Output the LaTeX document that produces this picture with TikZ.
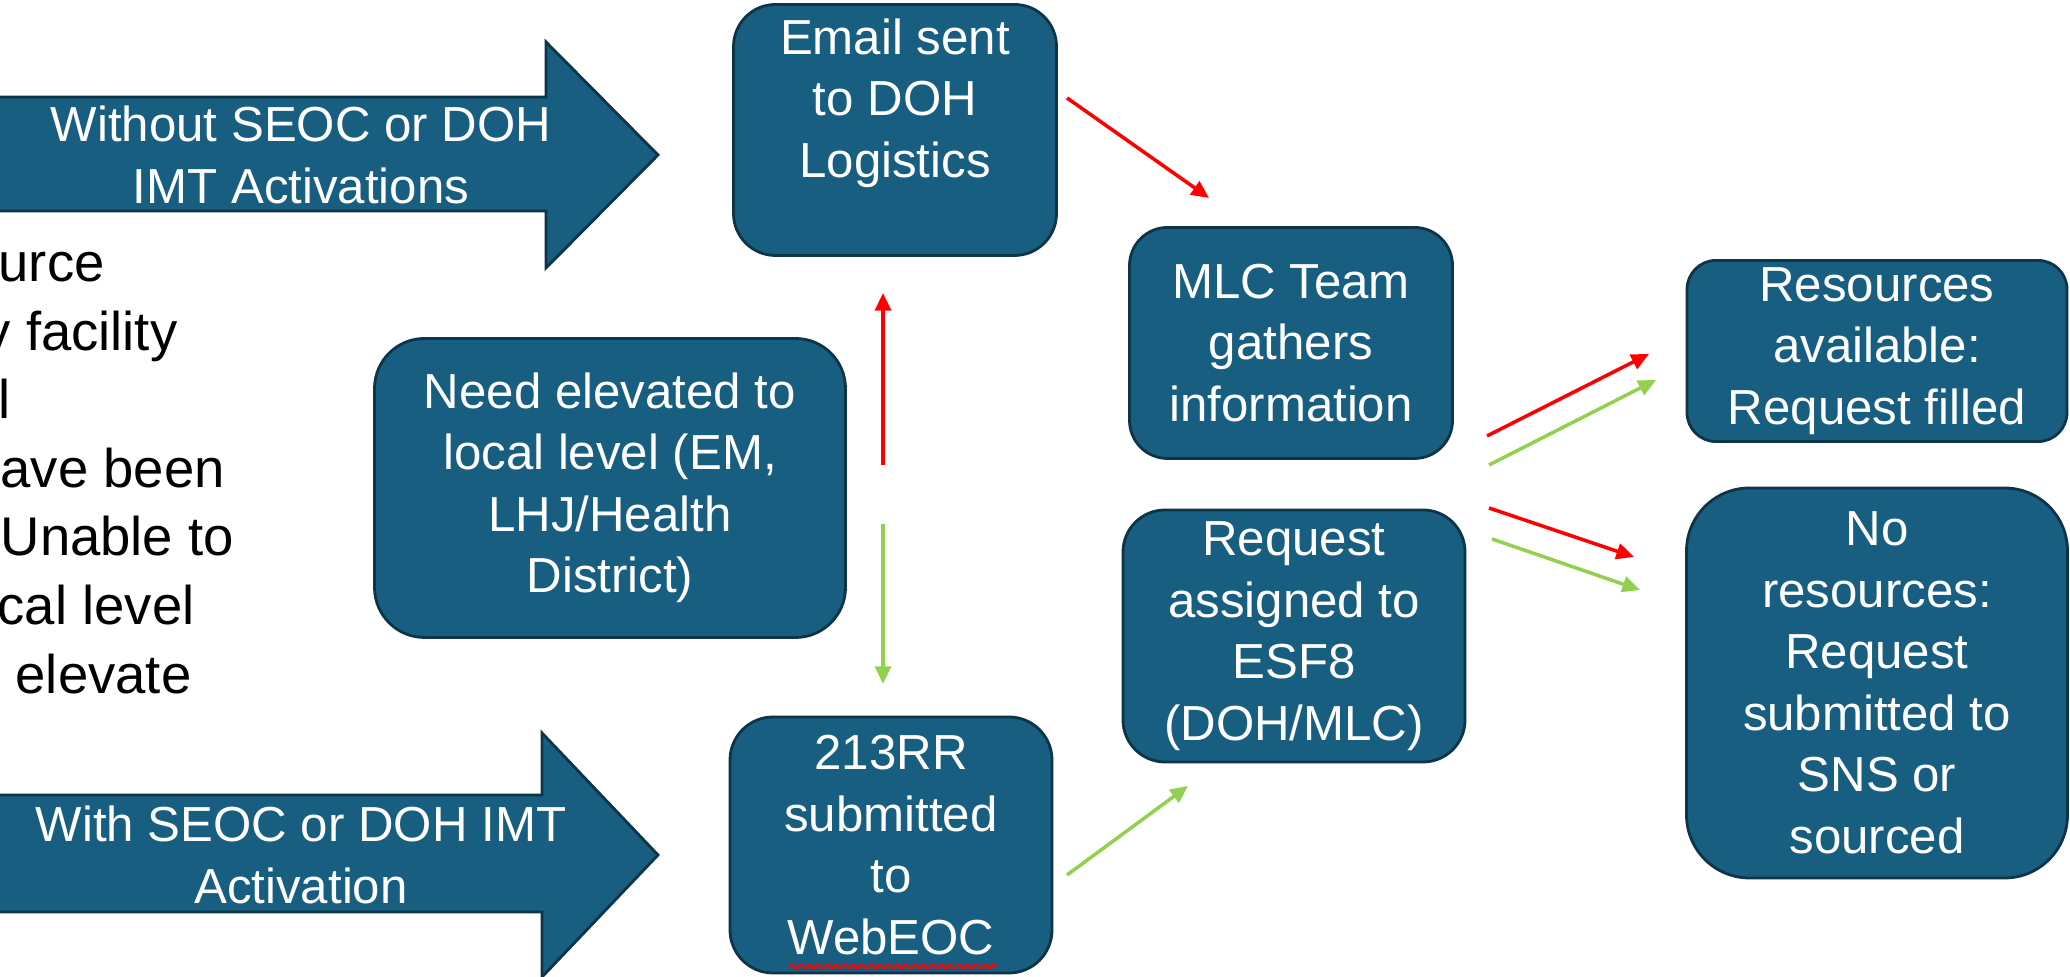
\documentclass[tikz,border=0pt]{standalone}
\usepackage{fontspec}
\setmainfont{Liberation Sans}
\usetikzlibrary{positioning,arrows.meta,decorations.pathmorphing}
\definecolor{boxblue}{HTML}{185E80}
\definecolor{boxline}{HTML}{0E3448}
\definecolor{flowgreen}{HTML}{92D050}

\begin{document}
\begin{tikzpicture}[
    every node/.style={font=\fontsize{14}{17.5}\selectfont},
    box/.style={draw=boxline, line width=0.8pt, fill=boxblue, text=white, align=center, inner sep=2pt},
    bigarrow/.style={draw=boxline, line width=0.8pt, fill=boxblue},
    note/.style={anchor=base west, inner sep=0pt, font=\fontsize{15.5}{19.8}\selectfont},
    redflow/.style={draw=red, line width=1pt, -{Triangle[length=5pt, width=4.5pt]}},
    greenflow/.style={draw=flowgreen, line width=1pt, -{Triangle[length=5pt, width=4.5pt]}}
]
\useasboundingbox (0,0) rectangle (20.70,9.77);
\clip (0,0) rectangle (20.70,9.77);

% 左侧文字 (被裁切)
\node[note] (t1) at (-0.02,6.95) {urce};
\node[note] (t2) at (-0.17,6.26) {y facility};
\node[note] (t3) at (-0.02,5.58) {l};
\node[note] (t4) at (0,4.89) {ave been};
\node[note] (t5) at (0,4.21) {Unable to};
\node[note] (t6) at (-0.03,3.52) {cal level};
\node[note] (t7) at (0.15,2.83) {elevate};

% 左侧大箭头
\draw[bigarrow] (-0.1,8.80) -- (5.46,8.80) -- (5.46,9.35) -- (6.58,8.22)
    -- (5.46,7.09) -- (5.46,7.66) -- (-0.1,7.66) -- cycle;
\node[text=white, align=center] (noact) at (3.01,8.22) {Without SEOC or DOH\\IMT Activations};

\draw[bigarrow] (-0.1,1.82) -- (5.42,1.82) -- (5.42,2.44) -- (6.58,1.22)
    -- (5.42,0) -- (5.42,0.65) -- (-0.1,0.65) -- cycle;
\node[text=white, align=center] (act) at (3.01,1.22) {With SEOC or DOH IMT\\Activation};

% 中间节点
\node[box, minimum width=3.23cm, minimum height=2.51cm, rounded corners=0.42cm] (email) at (8.95,8.47) {Email sent\\to DOH\\Logistics\\[-0.16cm] \strut};
\node[box, minimum width=4.71cm, minimum height=2.99cm, rounded corners=0.50cm] (need) at (6.10,4.89) {Need elevated to\\local level (EM,\\LHJ/Health\\District)};
\node[box, minimum width=3.22cm, minimum height=2.56cm, rounded corners=0.43cm] (rr) at (8.91,1.32) {213RR\\submitted\\to\\WebEOC};
\node[box, minimum width=3.23cm, minimum height=2.31cm, rounded corners=0.38cm] (mlc) at (12.91,6.34) {MLC Team\\gathers\\information};
\node[box, minimum width=3.42cm, minimum height=2.52cm, rounded corners=0.42cm] (esf) at (12.94,3.41) {Request\\assigned to\\ESF8\\(DOH/MLC)};

% 右侧节点
\node[box, minimum width=3.80cm, minimum height=1.74cm, rounded corners=0.29cm] (avail) at (18.77,6.26) {Resources\\available:\\Request filled};
\node[box, minimum width=3.81cm, minimum height=3.90cm, rounded corners=0.63cm] (nores) at (18.77,2.94) {No\\resources:\\Request\\submitted to\\SNS or\\sourced};

% 拼写下划线
\draw[red, line width=0.6pt, decorate, decoration={snake, amplitude=0.6pt, segment length=2.5pt}]
    ([xshift=-1.02cm, yshift=0.08cm]rr.south) -- ([xshift=1.06cm, yshift=0.08cm]rr.south);

% 连接线端点
\coordinate (up-s) at (8.83,5.12);
\coordinate (up-e) at (8.83,6.84);
\coordinate (down-s) at (8.83,4.53);
\coordinate (down-e) at (8.83,2.93);
\coordinate (em-s) at (10.67,8.79);
\coordinate (em-e) at (12.09,7.79);
\coordinate (rr-s) at (10.67,1.02);
\coordinate (rr-e) at (11.88,1.91);
\coordinate (ra-s) at (14.87,5.41);
\coordinate (ra-e) at (16.49,6.23);
\coordinate (ga-s) at (14.89,5.12);
\coordinate (ga-e) at (16.56,5.97);
\coordinate (rn-s) at (14.89,4.69);
\coordinate (rn-e) at (16.34,4.20);
\coordinate (gn-s) at (14.92,4.38);
\coordinate (gn-e) at (16.40,3.87);

% 连接线
\draw[redflow] (up-s) -- (up-e);
\draw[greenflow] (down-s) -- (down-e);
\draw[redflow] (em-s) -- (em-e);
\draw[greenflow] (rr-s) -- (rr-e);
\draw[redflow] (ra-s) -- (ra-e);
\draw[greenflow] (ga-s) -- (ga-e);
\draw[redflow] (rn-s) -- (rn-e);
\draw[greenflow] (gn-s) -- (gn-e);

\end{tikzpicture}
\end{document}
